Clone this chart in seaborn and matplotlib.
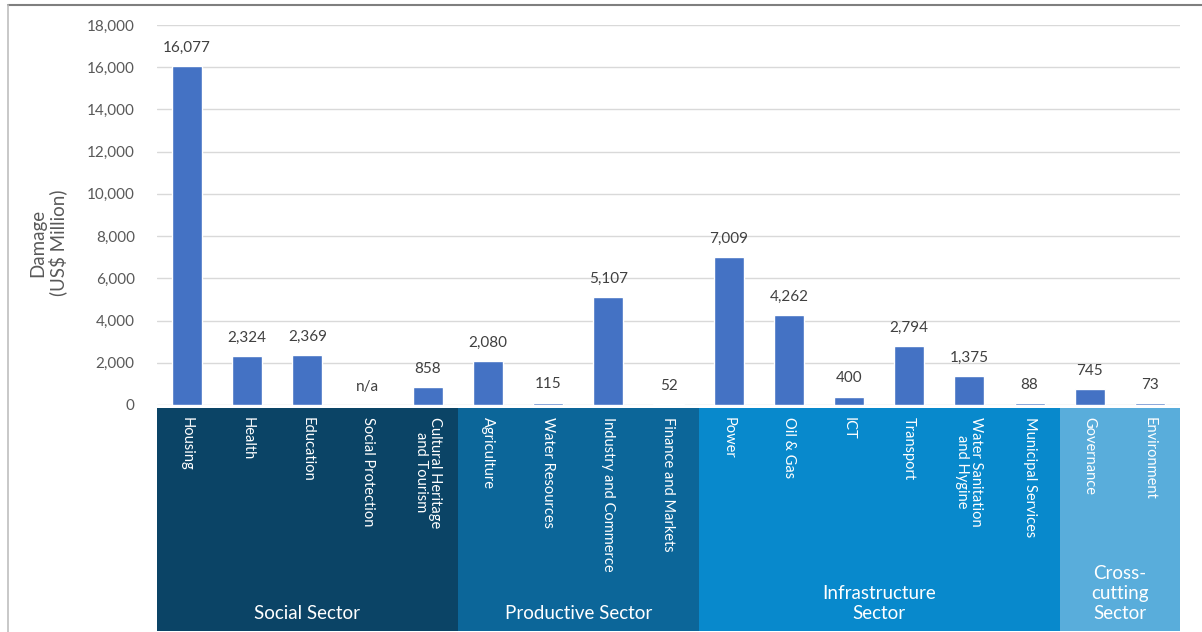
import numpy as np
import pandas as pd
import matplotlib
matplotlib.use("Agg")
import matplotlib.pyplot as plt
from matplotlib.lines import Line2D
import seaborn as sns

# Damage by subsector (US$ million); Social Protection has no estimate
categories = [
    "Housing", "Health", "Education", "Social Protection",
    "Cultural Heritage\nand Tourism",
    "Agriculture", "Water Resources", "Industry and Commerce", "Finance and Markets",
    "Power", "Oil & Gas", "ICT", "Transport",
    "Water Sanitation\nand Hygine", "Municipal Services",
    "Governance", "Environment",
]
damage = [16077, 2324, 2369, np.nan, 858,
          2080, 115, 5107, 52,
          7009, 4262, 400, 2794, 1375, 88,
          745, 73]

sector_names = ["Social Sector", "Productive Sector",
                "Infrastructure\nSector", "Cross-\ncutting\nSector"]
sector_sizes = [5, 4, 6, 2]
sector_colors = ["#0B4466", "#0C6699", "#0889CC", "#59ADDB"]

y_ticks = [0, 2000, 4000, 6000, 8000, 10000, 12000, 14000, 16000, 18000]

df = pd.DataFrame({"category": categories, "damage": damage})

sns.set_theme(style="white")
plt.rcParams["font.family"] = ["Lato", "DejaVu Sans"]

W, H = 1202, 632
fig = plt.figure(figsize=(W / 100, H / 100), dpi=100)

def fx(px):
    return px / W

def fy(py):
    return 1 - py / H

x0, x1 = 157, 1180
ax = fig.add_axes([fx(x0), fy(405), fx(x1 - x0), fy(25) - fy(405)])

sns.barplot(data=df, x="category", y="damage", color="#4472C4",
            width=0.5, saturation=1, ax=ax)

ax.set_ylim(0, 18000)
ax.set_xlim(-0.5, len(categories) - 0.5)
ax.set_yticks(y_ticks)
ax.set_yticklabels([f"{v:,}" for v in y_ticks], color="#595959", fontsize=11)
ax.yaxis.grid(True, color="#D9D9D9", linewidth=1)
ax.set_axisbelow(True)
ax.tick_params(axis="y", length=0, pad=16)
ax.set_xticks([])
ax.set_xlabel("")
ax.set_ylabel("Damage\n(US$ Million)", color="#595959", fontsize=13.5,
              linespacing=1.1)
ax.yaxis.set_label_coords((67 - x0) / (x1 - x0), (405 - 243) / 380)
for s in ax.spines.values():
    s.set_visible(False)

# Value labels above each bar
for i, v in enumerate(damage):
    txt = "n/a" if np.isnan(v) else f"{int(v):,}"
    yv = 0 if np.isnan(v) else v
    ax.annotate(txt, (i, yv), xytext=(0, 8), textcoords="offset points",
                ha="center", va="bottom", fontsize=11, color="#404040")

# Sector bands underneath the axis
band = fig.add_axes([fx(x0), fy(631), fx(x1 - x0), fy(408) - fy(631)],
                    sharex=ax)
band.set_ylim(0, 1)
band.axis("off")
start = -0.5
for name, size, col in zip(sector_names, sector_sizes, sector_colors):
    band.axvspan(start, start + size, color=col, lw=0)
    band.text(start + size / 2, 0.04, name, ha="center", va="bottom",
              color="white", fontsize=13.5, multialignment="center",
              linespacing=1.2)
    start += size

for i, cat in enumerate(categories):
    band.text(i, 0.96, cat, rotation=-90, ha="center", va="top",
              color="white", fontsize=10.5, multialignment="center",
              linespacing=1.0)

# Outer frame lines
fig.add_artist(Line2D([fx(8), 1], [fy(5), fy(5)], color="#7F7F7F", lw=1.5,
                      transform=fig.transFigure))
fig.add_artist(Line2D([fx(8), fx(8)], [fy(5), 0], color="#BFBFBF", lw=1.2,
                      transform=fig.transFigure))

fig.savefig("out.png", dpi=100, facecolor="white")
